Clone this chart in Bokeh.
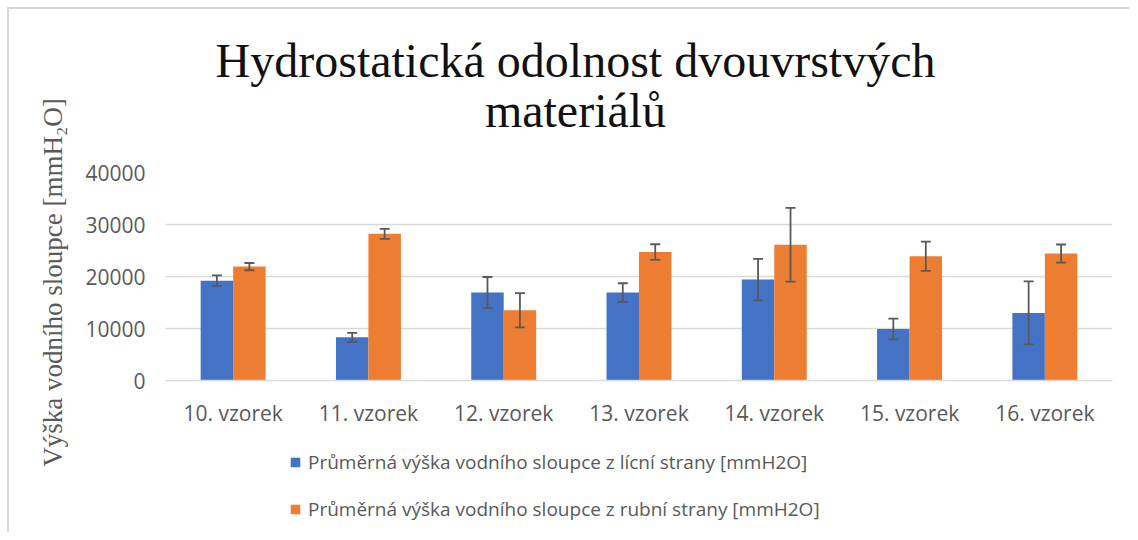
import math
from bokeh.plotting import figure
from bokeh.layouts import column, row
from bokeh.models import (ColumnDataSource, Whisker, Legend, LegendItem, Label,
                          FactorRange, Range1d, FixedTicker, TeeHead)
from bokeh.transform import dodge
from bokeh.embed import file_html
from bokeh.resources import INLINE

# ---- data ----
categories = ["10. vzorek", "11. vzorek", "12. vzorek", "13. vzorek",
              "14. vzorek", "15. vzorek", "16. vzorek"]
lici = [19200, 8300, 16900, 16900, 19400, 9900, 13000]
lici_err = [1000, 850, 3000, 1800, 4000, 2000, 6050]
rubni = [21900, 28200, 13500, 24700, 26100, 23900, 24400]
rubni_err = [700, 950, 3300, 1500, 7100, 2800, 1750]
y_ticks = [0, 10000, 20000, 30000, 40000]
series_names = ["Průměrná výška vodního sloupce z lícní strany [mmH2O]",
                "Průměrná výška vodního sloupce z rubní strany [mmH2O]"]
title_line1 = "Hydrostatická odolnost dvouvrstvých"
title_line2 = "materiálů"
y_label = "Výška vodního sloupce [mmH₂O]"

src = ColumnDataSource(dict(
    cat=categories,
    lici=lici,
    lici_up=[v + e for v, e in zip(lici, lici_err)],
    lici_lo=[v - e for v, e in zip(lici, lici_err)],
    rubni=rubni,
    rubni_up=[v + e for v, e in zip(rubni, rubni_err)],
    rubni_lo=[v - e for v, e in zip(rubni, rubni_err)],
))

BLUE = "#4472C4"
ORANGE = "#ED7D31"
GRAY = "#595959"
SANS = "Open Sans"
SERIF = "Liberation Serif"

LEFT_W = 79
MAIN_W = 1130 - LEFT_W


def clear(fig):
    fig.title = None
    fig.outline_line_color = None
    fig.border_fill_alpha = 0
    fig.background_fill_alpha = 0


def strip(width, height, **kw):
    f = figure(width=width, height=height, output_backend="svg", toolbar_location=None,
               x_axis_type=None, y_axis_type=None,
               min_border=0, min_border_left=0, min_border_right=0,
               min_border_top=0, min_border_bottom=0, **kw)
    clear(f)
    return f


# ---- y-axis title strip ----
pa = strip(LEFT_W, 532, x_range=Range1d(0, 1), y_range=Range1d(0, 1))
pa.add_layout(Label(x=52, y=250, x_units="screen", y_units="screen",
                    text=y_label, angle=math.pi / 2,
                    text_align="center", text_baseline="middle",
                    text_font=SERIF, text_font_size="27px", text_color=GRAY))

# ---- chart title strip ----
pt = strip(MAIN_W, 152, x_range=Range1d(0, 1), y_range=Range1d(0, 1))
for txt, yy in ((title_line1, 92), (title_line2, 42)):
    pt.add_layout(Label(x=410, y=yy, x_units="screen", y_units="screen", text=txt,
                        text_align="center", text_baseline="alphabetic",
                        text_font=SERIF, text_font_size="48px", text_color="#111111"))

# ---- main chart ----
p = figure(width=MAIN_W, height=278, output_backend="svg", toolbar_location=None,
           x_range=FactorRange(*categories, range_padding=0),
           y_range=Range1d(0, 40000),
           min_border_left=86, min_border_right=18,
           min_border_top=20, min_border_bottom=50)
clear(p)

bw = 0.24
r1 = p.vbar(x=dodge("cat", -bw / 2, range=p.x_range), top="lici", width=bw,
            source=src, fill_color=BLUE, line_color=None)
r2 = p.vbar(x=dodge("cat", bw / 2, range=p.x_range), top="rubni", width=bw,
            source=src, fill_color=ORANGE, line_color=None)

for key, off in (("lici", -bw / 2), ("rubni", bw / 2)):
    w = Whisker(base=dodge("cat", off, range=p.x_range), upper=key + "_up",
                lower=key + "_lo", source=src, line_color=GRAY, line_width=1.8,
                level="overlay",
                upper_head=TeeHead(size=10, line_color=GRAY, line_width=1.8),
                lower_head=TeeHead(size=10, line_color=GRAY, line_width=1.8))
    p.add_layout(w)

p.xgrid.grid_line_color = None
p.ygrid.grid_line_color = "#d9d9d9"
p.ygrid.grid_line_width = 1.5
p.yaxis.ticker = FixedTicker(ticks=y_ticks)
p.yaxis.major_label_overrides = {v: str(v) for v in y_ticks}
p.yaxis.axis_line_color = None
p.yaxis.major_tick_line_color = None
p.yaxis.minor_tick_line_color = None
p.yaxis.major_label_text_font = SANS
p.yaxis.major_label_text_font_size = "21px"
p.yaxis.major_label_text_color = GRAY
p.yaxis.major_label_standoff = 14

p.xaxis.axis_line_color = "#d9d9d9"
p.xaxis.axis_line_width = 1.5
p.xaxis.major_tick_line_color = None
p.xaxis.minor_tick_line_color = None
p.xaxis.major_label_text_font = SANS
p.xaxis.major_label_text_font_size = "21px"
p.xaxis.major_label_text_color = GRAY
p.xaxis.major_label_standoff = 12

# ---- legend strip below the chart (zero-size proxies, only legend shown) ----
pl = strip(MAIN_W, 102, x_range=p.x_range, y_range=Range1d(-2, -1))
lr1 = pl.vbar(x=dodge("cat", -bw / 2, range=pl.x_range), top="lici", bottom="lici",
              width=0, source=src, fill_color=BLUE, line_color=None)
lr2 = pl.vbar(x=dodge("cat", bw / 2, range=pl.x_range), top="rubni", bottom="rubni",
              width=0, source=src, fill_color=ORANGE, line_color=None)

legend = Legend(items=[LegendItem(label=series_names[0], renderers=[lr1]),
                       LegendItem(label=series_names[1], renderers=[lr2])],
                location=(124, 10), orientation="vertical",
                glyph_width=12, glyph_height=12, label_standoff=7,
                label_text_font=SANS, label_text_font_size="19px",
                label_text_color=GRAY, label_height=24, spacing=21,
                padding=0, margin=0, border_line_color=None,
                background_fill_alpha=0)
pl.add_layout(legend)

layout = row(pa, column(pt, p, pl, spacing=0), spacing=0,
             styles={"background-color": "white",
                     "background-image": "linear-gradient(#d9d9d9,#d9d9d9), linear-gradient(#d9d9d9,#d9d9d9)",
                     "background-size": "2px 100%, 100% 2px",
                     "background-position": "7px 7px, 7px 7px",
                     "background-repeat": "no-repeat"})
open("out.html", "w").write(file_html(layout, INLINE))
